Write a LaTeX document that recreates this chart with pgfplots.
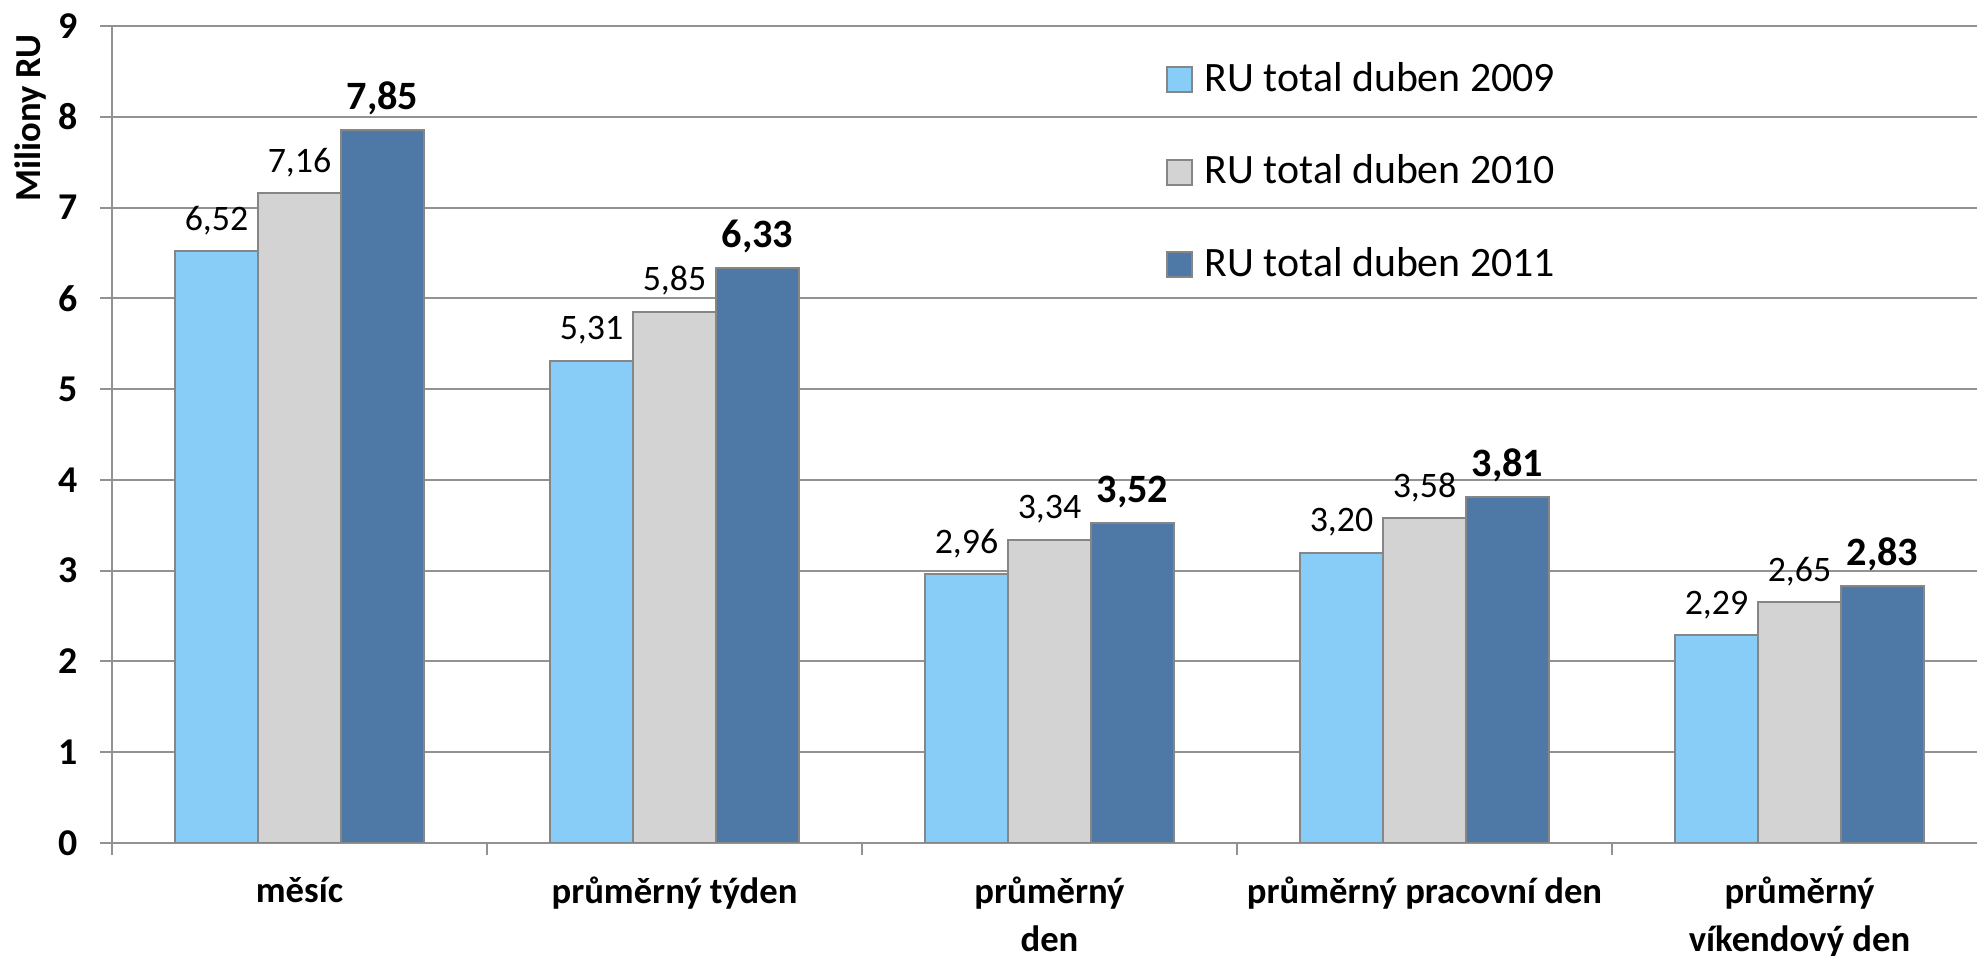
\documentclass[border=0pt]{standalone}
\usepackage{fontspec}
\setmainfont{Carlito}
\usepackage{pgfplots}
\pgfplotsset{compat=1.18}
\definecolor{c09}{RGB}{135,205,247}
\definecolor{c10}{RGB}{211,211,211}
\definecolor{c11}{RGB}{78,121,167}
\definecolor{gridc}{RGB}{146,146,146}
\definecolor{edgec}{RGB}{134,134,134}
\begin{document}
\begin{tikzpicture}
\useasboundingbox (0,0) rectangle (494.25bp,239bp);
\begin{axis}[
  name=ax,
  at={(28bp,28.25bp)}, anchor=south west,
  scale only axis, width=466.25bp, height=204.25bp,
  xmin=-0.5, xmax=4.4733, ymin=0, ymax=9,
  axis lines*=left,
  axis line style={draw=gridc, line width=0.5bp},
  ybar=0pt, bar width=20.75bp,
  ymajorgrids, grid style={draw=gridc, line width=0.5bp},
  ytick={0,1,...,9},
  xtick={-0.5,0.5,1.5,2.5,3.5},
  xticklabels={},
  extra x ticks={0,1,2,3,4},
  extra x tick labels={měsíc, průměrný týden, {průměrný\\den}, průměrný pracovní den, {průměrný\\víkendový den}},
  extra x tick style={major tick length=0pt, xticklabel style={font=\fontsize{9.2}{12}\selectfont\bfseries, align=center, yshift=-5bp}},
  tick align=outside,
  major tick length=3bp,
  tick style={draw=gridc, line width=0.5bp},
  yticklabel style={font=\fontsize{9.5}{11}\selectfont\bfseries, anchor=east, inner sep=0pt, xshift=-5.5bp},
  /pgf/number format/assume math mode=true,
  nodes near coords={\pgfmathprintnumber[fixed, fixed zerofill, precision=2, use comma]{\pgfplotspointmeta}},
  every node near coord/.append style={anchor=base, yshift=5.25bp, inner sep=0pt, black},
  legend image code/.code={\draw[#1] (0bp,-3.125bp) rectangle (6.25bp,3.125bp);},
  legend cell align=left,
  legend style={draw=none, fill=none, inner sep=0pt, row sep=14.4bp, column sep=3bp,
    nodes={inner sep=0pt}, font=\fontsize{10.5}{12.5}\selectfont,
    at={(rel axis cs:0.5646,0.957)}, anchor=north west},
]
\addplot[fill=c09, draw=edgec, line width=0.5bp,
  every node near coord/.append style={font=\fontsize{9}{10}\selectfont}]
  coordinates {(0,6.52) (1,5.31) (2,2.96) (3,3.20) (4,2.29)};
\addplot[fill=c10, draw=edgec, line width=0.5bp,
  every node near coord/.append style={font=\fontsize{9}{10}\selectfont}]
  coordinates {(0,7.16) (1,5.85) (2,3.34) (3,3.58) (4,2.65)};
\addplot[fill=c11, draw=edgec, line width=0.5bp,
  every node near coord/.append style={font=\fontsize{10.1}{12}\selectfont\bfseries}]
  coordinates {(0,7.85) (1,6.33) (2,3.52) (3,3.81) (4,2.83)};
\legend{RU total duben 2009, RU total duben 2010, RU total duben 2011}
\end{axis}
\node[rotate=90, font=\fontsize{9.2}{11}\selectfont\bfseries] at ([xshift=-20.25bp, yshift=-23bp]ax.north west) {Miliony RU};
\end{tikzpicture}
\end{document}
